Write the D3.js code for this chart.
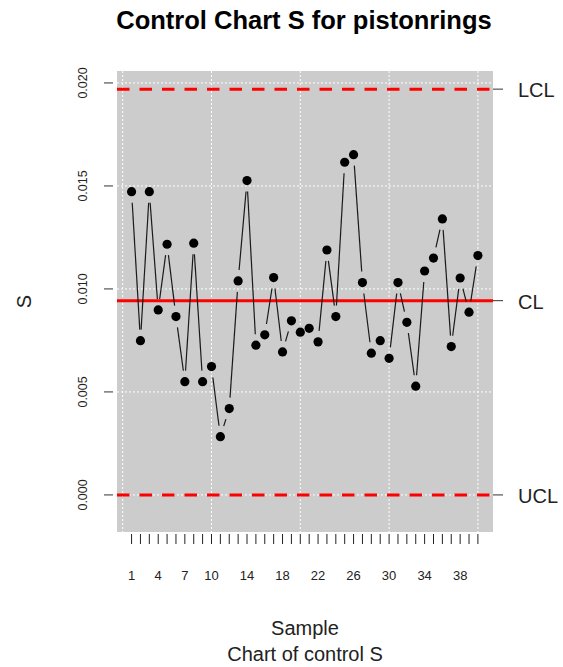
<!DOCTYPE html>
<html>
<head>
<meta charset="utf-8">
<script src="https://cdn.jsdelivr.net/npm/d3@7"></script>
<style>
  body { margin: 0; background: #fff; }
  svg { display: block; font-family: "Liberation Sans", Arial, sans-serif; }
</style>
</head>
<body>
<svg id="chart" width="563" height="667"></svg>
<script>
// sample numbers and the S statistic
const samples = [1,2,3,4,5,6,7,8,9,10,11,12,13,14,15,16,17,18,19,20,
                 21,22,23,24,25,26,27,28,29,30,31,32,33,34,35,36,37,38,39,40];
const sValues = [0.01472,0.00749,0.01472,0.00898,0.01217,0.00866,0.00550,0.01222,0.00550,0.00623,
                 0.00283,0.00419,0.01039,0.01526,0.00727,0.00777,0.01055,0.00694,0.00845,0.00790,
                 0.00809,0.00743,0.01189,0.00866,0.01615,0.01652,0.01031,0.00688,0.00749,0.00663,
                 0.01031,0.00838,0.00528,0.01087,0.01150,0.01340,0.00720,0.01053,0.00887,0.01162];

// control limits (labels kept as in the original picture)
const limitNames = ["LCL", "CL", "UCL"];
const limitValues = [0.0197, 0.00943, 0];

const xTickLabels = [1,4,7,10,14,18,22,26,30,34,38];
const yTicks = [0, 0.005, 0.010, 0.015, 0.020];
const xGrid = [0, 10, 20, 30, 40];

const svg = d3.select("#chart");

// panel extents
const pLeft = 117, pRight = 493, pTop = 71, pBottom = 532;

const x = d3.scaleLinear().domain([-0.64, 41.7]).range([pLeft, pRight]);
const y = d3.scaleLinear().domain([-0.0018, 0.02058]).range([pBottom, pTop]);

// grey panel
svg.append("rect")
  .attr("x", pLeft).attr("y", pTop)
  .attr("width", pRight - pLeft).attr("height", pBottom - pTop)
  .attr("fill", "#cccccc");

// dotted white grid
svg.append("g").selectAll("line")
  .data(yTicks).join("line")
  .attr("x1", pLeft).attr("x2", pRight)
  .attr("y1", d => y(d)).attr("y2", d => y(d))
  .attr("stroke", "#fff").attr("stroke-width", 1)
  .attr("stroke-dasharray", "2,2");

svg.append("g").selectAll("line")
  .data(xGrid).join("line")
  .attr("x1", d => x(d)).attr("x2", d => x(d))
  .attr("y1", pTop).attr("y2", pBottom)
  .attr("stroke", "#fff").attr("stroke-width", 1)
  .attr("stroke-dasharray", "2,2");

// control lines
svg.append("g").selectAll("line")
  .data(limitValues).join("line")
  .attr("x1", pLeft).attr("x2", pRight)
  .attr("y1", d => y(d)).attr("y2", d => y(d))
  .attr("stroke", "#ff0000").attr("stroke-width", 3)
  .attr("stroke-dasharray", (d, i) => limitNames[i] === "CL" ? null : "12.5,10");

// connecting line, type "b" style: segments broken around each point
const pts = samples.map((s, i) => [x(s), y(sValues[i])]);
const gap = 11;
const segs = [];
for (let i = 0; i < pts.length - 1; i++) {
  const [x0, y0] = pts[i], [x1, y1] = pts[i + 1];
  const len = Math.hypot(x1 - x0, y1 - y0);
  if (len <= 2 * gap) continue;
  const ux = (x1 - x0) / len, uy = (y1 - y0) / len;
  segs.push([x0 + ux * gap, y0 + uy * gap, x1 - ux * gap, y1 - uy * gap]);
}
svg.append("g").selectAll("line")
  .data(segs).join("line")
  .attr("x1", d => d[0]).attr("y1", d => d[1])
  .attr("x2", d => d[2]).attr("y2", d => d[3])
  .attr("stroke", "#1a1a1a").attr("stroke-width", 1.2);

// points
svg.append("g").selectAll("circle")
  .data(samples).join("circle")
  .attr("cx", d => x(d))
  .attr("cy", (d, i) => y(sValues[i]))
  .attr("r", 4.6)
  .attr("fill", "#000");

// left axis: ticks + rotated labels
const yAxis = svg.append("g");
yAxis.selectAll("line")
  .data(yTicks).join("line")
  .attr("x1", 104).attr("x2", 113)
  .attr("y1", d => y(d)).attr("y2", d => y(d))
  .attr("stroke", "#333");
yAxis.selectAll("text")
  .data(yTicks).join("text")
  .attr("transform", d => `translate(87,${y(d)}) rotate(-90)`)
  .attr("text-anchor", "middle")
  .attr("font-size", 12.5)
  .attr("fill", "#222")
  .text(d3.format(".3f"));

// bottom axis: a tick for every sample, thinned labels
const xAxis = svg.append("g");
xAxis.selectAll("line")
  .data(samples).join("line")
  .attr("x1", d => x(d)).attr("x2", d => x(d))
  .attr("y1", 534).attr("y2", 544)
  .attr("stroke", "#222");
xAxis.selectAll("text")
  .data(xTickLabels).join("text")
  .attr("x", d => x(d)).attr("y", 580)
  .attr("text-anchor", "middle")
  .attr("font-size", 13)
  .attr("fill", "#222")
  .text(d => d);

// right side: limit ticks and names
const rAxis = svg.append("g");
rAxis.selectAll("line")
  .data(limitValues).join("line")
  .attr("x1", pRight).attr("x2", 503)
  .attr("y1", d => y(d)).attr("y2", d => y(d))
  .attr("stroke", "#333");
rAxis.selectAll("text")
  .data(limitValues).join("text")
  .attr("x", 518).attr("y", d => y(d) + 8)
  .attr("font-size", 20)
  .attr("fill", "#222")
  .text((d, i) => limitNames[i]);

// titles
svg.append("text")
  .attr("x", 304).attr("y", 29)
  .attr("text-anchor", "middle")
  .attr("font-size", 25.5).attr("font-weight", "bold")
  .text("Control Chart S for pistonrings");

svg.append("text")
  .attr("x", 305).attr("y", 635)
  .attr("text-anchor", "middle")
  .attr("font-size", 20).attr("fill", "#222")
  .text("Sample");

svg.append("text")
  .attr("x", 305).attr("y", 661)
  .attr("text-anchor", "middle")
  .attr("font-size", 20).attr("fill", "#222")
  .text("Chart of control S");

svg.append("text")
  .attr("transform", `translate(31,${(pTop + pBottom) / 2}) rotate(-90)`)
  .attr("text-anchor", "middle")
  .attr("font-size", 20).attr("fill", "#222")
  .text("S");
</script>
</body>
</html>
